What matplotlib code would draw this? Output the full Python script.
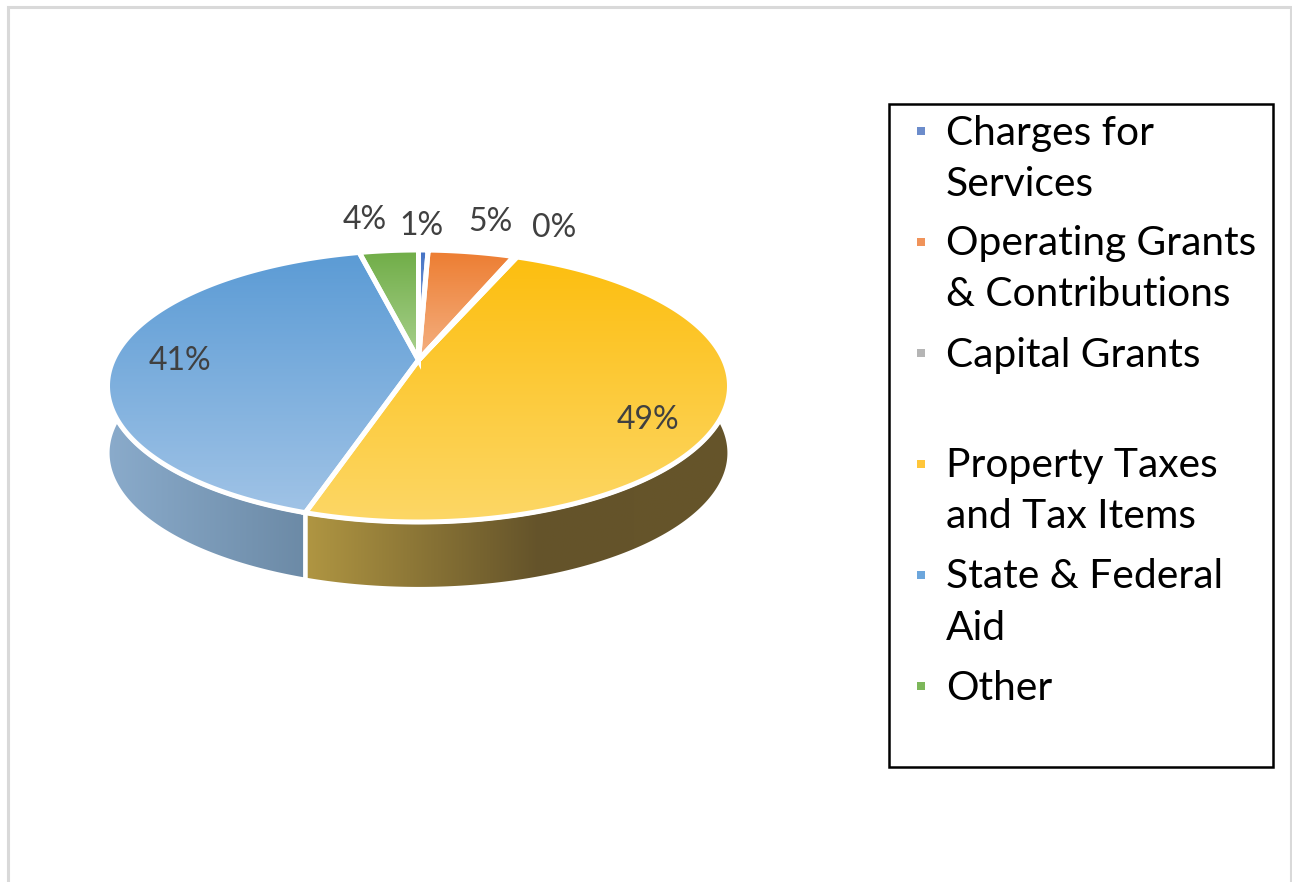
import numpy as np
import matplotlib
matplotlib.use("Agg")
import matplotlib.pyplot as plt
from matplotlib.colors import LinearSegmentedColormap, to_rgb
from matplotlib.patches import Polygon, Rectangle

# ---- data ----
categories = ["Charges for\nServices", "Operating Grants\n& Contributions", "Capital Grants",
              "Property Taxes\nand Tax Items", "State & Federal\nAid", "Other"]
values = [0.6, 5.4, 0.2, 48.7, 41.4, 3.7]

# ---- styling ----
top_colors = ["#4472C4", "#ED7D31", "#A5A5A5", "#FDBE0F", "#5B9BD5", "#70AD47"]
low_colors = ["#A9BDE6", "#F4B183", "#D0D0D0", "#FCD766", "#A0C3E6", "#A9D18E"]
marker_colors = ["#6C8CCB", "#F0935A", "#B5B5B5", "#FFC63A", "#6CA6DC", "#7DB75A"]
wall_stops = {3: (["#B09642", "#64532A", "#66552A"], [0.0, 0.55, 1.0]),
              4: (["#8AABCB", "#6C8AA6"], [0.0, 1.0])}
label_xy = [(421, 226), (490, 222), (554, 228), (648, 420), (180, 361), (365, 220)]
legend_marker_y = [131, 242, 353, 464, 575, 686]

plt.rcParams["font.family"] = ["Lato", "DejaVu Sans"]
W, H = 1292, 882
fig = plt.figure(figsize=(W / 100, H / 100), dpi=100)
ax = fig.add_axes([0, 0, 1, 1])

CX, CY, RX, RY, APEX, DEPTH = 418.5, 386.0, 311.0, 136.0, 26.0, 67.0
k = APEX / RY
c = RX * np.sqrt(1 - k ** 2)


def rim(theta, dy=0.0):
    """theta clockwise from top, perspective projection of the unit disc."""
    u, v = np.sin(theta), np.cos(theta)
    w = 1 + k * v
    return np.column_stack([CX + c * u / w, CY - (RY * v + APEX) / w + dy])


apex_xy = np.array([CX, CY - APEX])
fractions = np.array(values) / sum(values)
edges = np.concatenate([[0], np.cumsum(fractions)]) * 2 * np.pi


def grad_fill(poly, colors, stops, horizontal, z, lw=3.6):
    cmap = LinearSegmentedColormap.from_list("g", list(zip(stops, [to_rgb(x) for x in colors])))
    x0, y0 = poly.min(axis=0)
    x1, y1 = poly.max(axis=0)
    ramp = np.linspace(0, 1, 256)
    arr = ramp[None, :] if horizontal else ramp[:, None]
    im = ax.imshow(arr, cmap=cmap, vmin=0, vmax=1, extent=(x0, x1, y1, y0), origin="upper",
                   aspect="auto", zorder=z, interpolation="bilinear")
    patch = Polygon(poly, closed=True, transform=ax.transData, fc="none", ec="none")
    ax.add_patch(patch)
    im.set_clip_path(patch)
    ax.add_patch(Polygon(poly, closed=True, fc="none", ec="white", lw=lw, zorder=z + 0.5,
                         joinstyle="miter"))


# side walls (front half of the disc)
for i, (colors, stops) in wall_stops.items():
    a = max(edges[i], np.radians(75))
    b = min(edges[i + 1], np.radians(285))
    t = np.linspace(a, b, 200)
    poly = np.vstack([rim(t), rim(t[::-1], DEPTH)])
    grad_fill(poly, colors, stops, True, 2, lw=3.0)

# top faces
for i in range(len(values)):
    t = np.linspace(edges[i], edges[i + 1], 200)
    poly = np.vstack([apex_xy, rim(t)])
    grad_fill(poly, [top_colors[i], low_colors[i]], [0, 1], False, 3)

# data labels
for v, (x, y) in zip(values, label_xy):
    ax.text(x, y, f"{round(v)}%", ha="center", va="center", fontsize=23, color="#404040", zorder=6)

# legend box
ax.add_patch(Rectangle((888.5, 103.5), 384.5, 663.5, fc="white", ec="black", lw=1.8, zorder=5))
for label, my, col in zip(categories, legend_marker_y, marker_colors):
    ax.add_patch(Rectangle((917, my - 4), 8, 8, fc=col, ec="none", zorder=6))
    for j, line in enumerate(label.split("\n")):
        ax.text(946, my + 2 + j * 51, line, ha="left", va="center", fontsize=29.3, color="black", zorder=6)

# outer frame
ax.plot([7.5, 7.5, 1291, 1291], [882, 6.5, 6.5, 882], color="#D9D9D9", lw=2.2, zorder=1,
        solid_joinstyle="miter")

ax.set_xlim(0, W)
ax.set_ylim(H, 0)
ax.axis("off")
fig.savefig("out.png", dpi=100, facecolor="white")
